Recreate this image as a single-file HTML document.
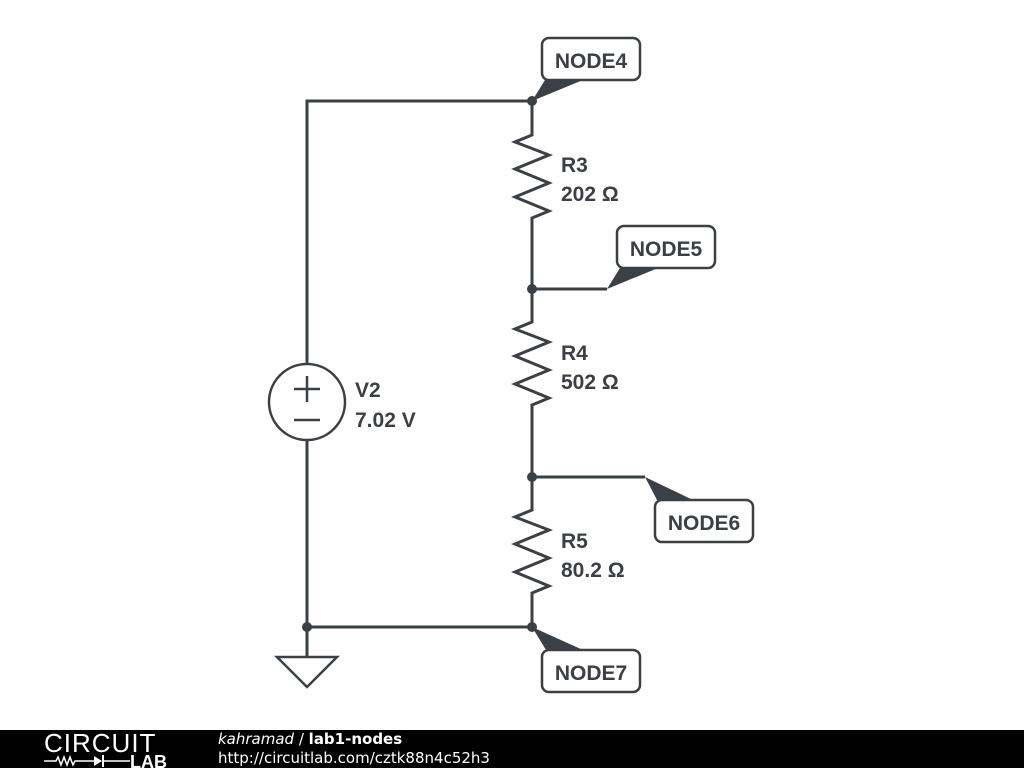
<!DOCTYPE html>
<html><head><meta charset="utf-8"><style>
body{margin:0;width:1024px;height:768px;background:#fff;overflow:hidden;position:relative;font-family:"Liberation Sans",sans-serif}
.bar{position:absolute;left:0;top:730px;width:1024px;height:38px;background:#000}
</style></head><body>
<svg width="1024" height="730" style="position:absolute;left:0;top:0">
<g stroke="#3a4046" stroke-width="3" fill="none" stroke-linejoin="miter">
<polyline points="307,364 307,101 532,101 532,135 515,142 549,155 515,169 549,183 515,197 549,211 532,218 532,322 515,329 549,342 515,356 549,370 515,384 549,398 532,405 532,510 515,517 549,530 515,544 549,558 515,572 549,586 532,593 532,627 307,627 307,440"/>
<line x1="532" y1="289" x2="607" y2="289"/>
<line x1="532" y1="477" x2="645" y2="477"/>
<line x1="307" y1="627" x2="307" y2="657"/>
<polygon points="277,657 337,657 307,687" stroke-width="2.5"/>
<circle cx="307" cy="402" r="38" stroke-width="2.5"/>
<line x1="294" y1="389" x2="320" y2="389" stroke-width="2.5"/><line x1="307" y1="376" x2="307" y2="402" stroke-width="2.5"/>
<line x1="294" y1="420" x2="320" y2="420" stroke-width="2.5"/>
<rect x="542" y="38" width="98" height="42" rx="7" stroke-width="2.5" fill="#fff"/>
<rect x="617" y="226" width="98" height="42" rx="7" stroke-width="2.5" fill="#fff"/>
<rect x="655" y="500" width="98" height="42" rx="7" stroke-width="2.5" fill="#fff"/>
<rect x="542" y="650" width="98" height="42" rx="7" stroke-width="2.5" fill="#fff"/>
</g>
<g fill="#3a4046">
<polygon points="532,101 545,80 583,80"/>
<polygon points="607,289 620,268 658,268"/>
<polygon points="645,477 657,500 693,500"/>
<polygon points="532,627 546,650 583,650"/>
<circle cx="532" cy="101" r="5"/><circle cx="532" cy="289" r="5"/><circle cx="532" cy="477" r="5"/><circle cx="532" cy="627" r="5"/><circle cx="307" cy="627" r="5"/>
</g>
<g fill="#3a4046" font-family="Liberation Sans, sans-serif" font-weight="bold" font-size="21">
<text x="591" y="68" text-anchor="middle">NODE4</text>
<text x="666" y="256" text-anchor="middle">NODE5</text>
<text x="704" y="530" text-anchor="middle">NODE6</text>
<text x="591" y="680" text-anchor="middle">NODE7</text>
<text x="561" y="172">R3</text><text x="561" y="201">202 Ω</text>
<text x="561" y="360">R4</text><text x="561" y="389">502 Ω</text>
<text x="561" y="548">R5</text><text x="561" y="577">80.2 Ω</text>
<text x="355" y="397">V2</text><text x="355" y="427">7.02 V</text>
</g>
</svg>
<div class="bar">
<div style="position:absolute;left:44px;top:0;color:#fff;font-size:26px;letter-spacing:1px;font-weight:300;line-height:26px">CIRCUIT</div>
<svg width="140" height="16" style="position:absolute;left:44px;top:23px"><polyline points="0,8 12,8 14,4 17,12 20,4 23,12 26,4 29,12 31,8 50,8" stroke="#fff" stroke-width="1.5" fill="none"/><polygon points="50,3 50,13 58,8" fill="#fff"/><line x1="59" y1="2" x2="59" y2="14" stroke="#fff" stroke-width="2"/><line x1="59" y1="8" x2="86" y2="8" stroke="#fff" stroke-width="1.5"/><text x="86" y="15" fill="#fff" font-family="Liberation Sans" font-weight="bold" font-size="18">LAB</text></svg>
<div style="position:absolute;left:218px;top:0px;color:#fff;font-family:'DejaVu Sans',sans-serif;font-size:15px;line-height:19px"><i>kahramad</i> / <b>lab1-nodes</b><br>http://circuitlab.com/cztk88n4c52h3</div>
</div>
</body></html>
